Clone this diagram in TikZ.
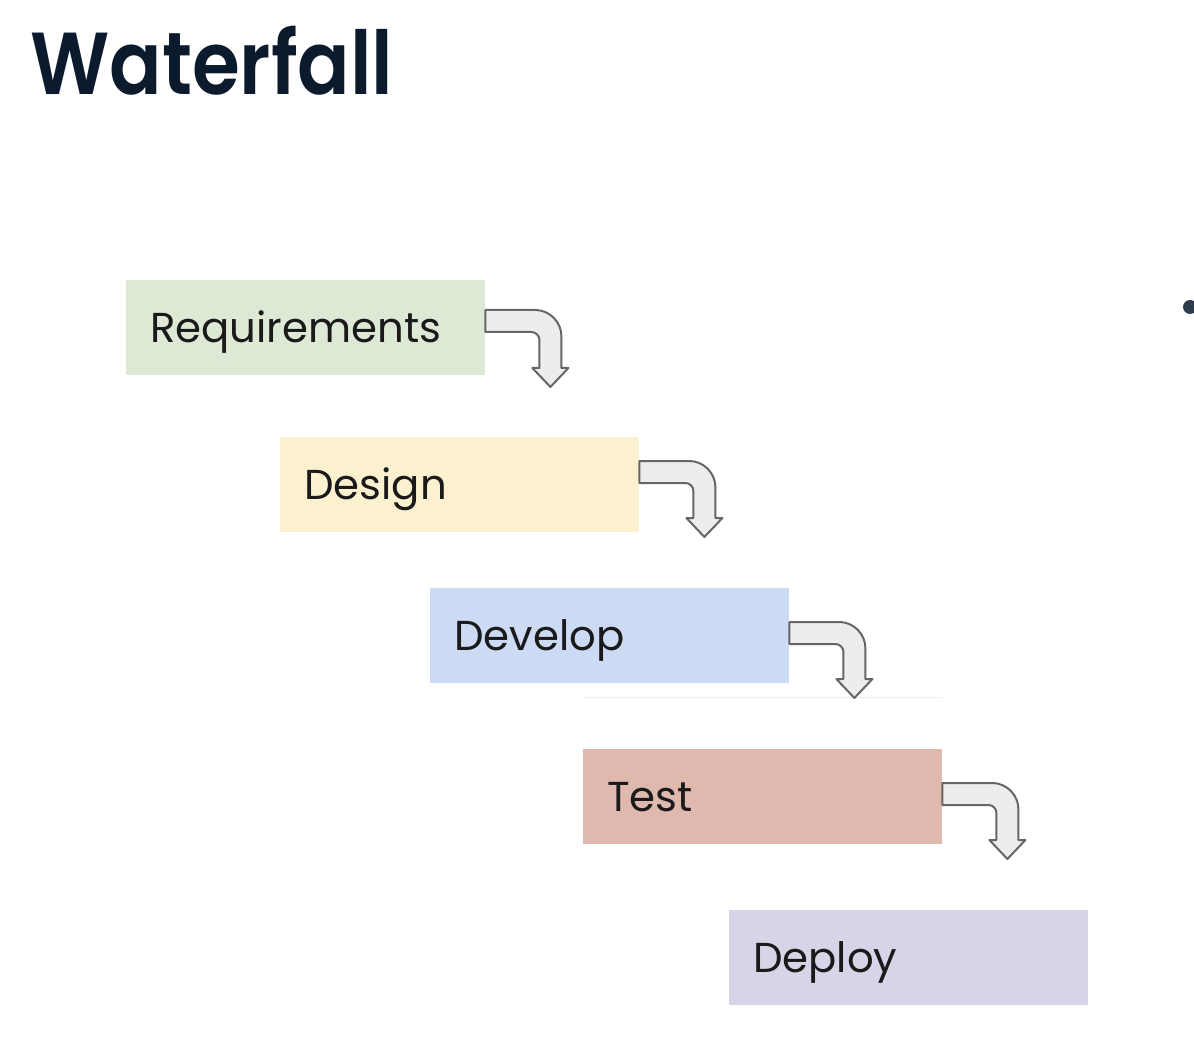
\documentclass[tikz,border=0pt]{standalone}
\usepackage{fontspec}
\setmainfont{Poppins}
\newfontfamily\titlefont{Poppins SemiBold}
\definecolor{reqcol}{HTML}{DDE8D5}
\definecolor{descol}{HTML}{FCF1CF}
\definecolor{devcol}{HTML}{CCDAF4}
\definecolor{tstcol}{HTML}{DFB8AE}
\definecolor{depcol}{HTML}{D9D3E8}
\definecolor{txtcol}{HTML}{1A1A1A}
\definecolor{titcol}{HTML}{0C1A2E}
\definecolor{arrfill}{HTML}{EDEDED}
\definecolor{arrdraw}{HTML}{666666}
\definecolor{dotcol}{HTML}{2E3A4D}
\definecolor{faint}{HTML}{F3ECE9}
\begin{document}
\begin{tikzpicture}[x=1pt,y=-1pt,
  stage/.style={anchor=north west, minimum width=359pt, minimum height=95pt,
    text width=311pt, align=left, inner xsep=24pt, inner ysep=0pt,
    text height=29pt, text depth=0pt, font=\fontsize{41.8}{42}\selectfont, text=txtcol},
  bentarrow/.style={fill=arrfill, draw=arrdraw, line width=2pt, line join=round},
  pics/bent/.style n args={2}{code={
    \path[bentarrow] (0,#1) -- (50,#1) .. controls (64,#1) and (76,#1+12) .. (76,#1+26)
      -- (76,#2-19) -- (83,#2-19) -- (65,#2) -- (47,#2-19) -- (54,#2-19)
      -- (54,#1+30) .. controls (54,#1+25.6) and (50.4,#1+22) .. (46,#1+22)
      -- (0,#1+22) -- cycle;
  }}]
\useasboundingbox (0,0) rectangle (1194,1056);
\node[anchor=base west, font=\titlefont\fontsize{88}{88}\selectfont, text=titcol, inner sep=0pt] (title) at (30,95) {\scalebox{0.88}[1]{Waterfall}};
\node[stage, fill=reqcol] (req) at (126,280) {Requirements};
\node[stage, fill=descol] (des) at (280,437) {Design};
\node[stage, fill=devcol] (dev) at (430,588) {Develop};
\node[stage, fill=tstcol] (tst) at (583,749) {Test};
\node[stage, fill=depcol] (dep) at (729,910) {Deploy};
\draw[faint, line width=0.8pt] (582,697) -- (942,697);
\pic at (req.north east) {bent={30}{107}};
\pic at (des.north east) {bent={24}{100}};
\pic at (dev.north east) {bent={34}{110}};
\pic at (tst.north east) {bent={34}{110}};
\fill[dotcol] (1190,307) circle (7);
\end{tikzpicture}
\end{document}
